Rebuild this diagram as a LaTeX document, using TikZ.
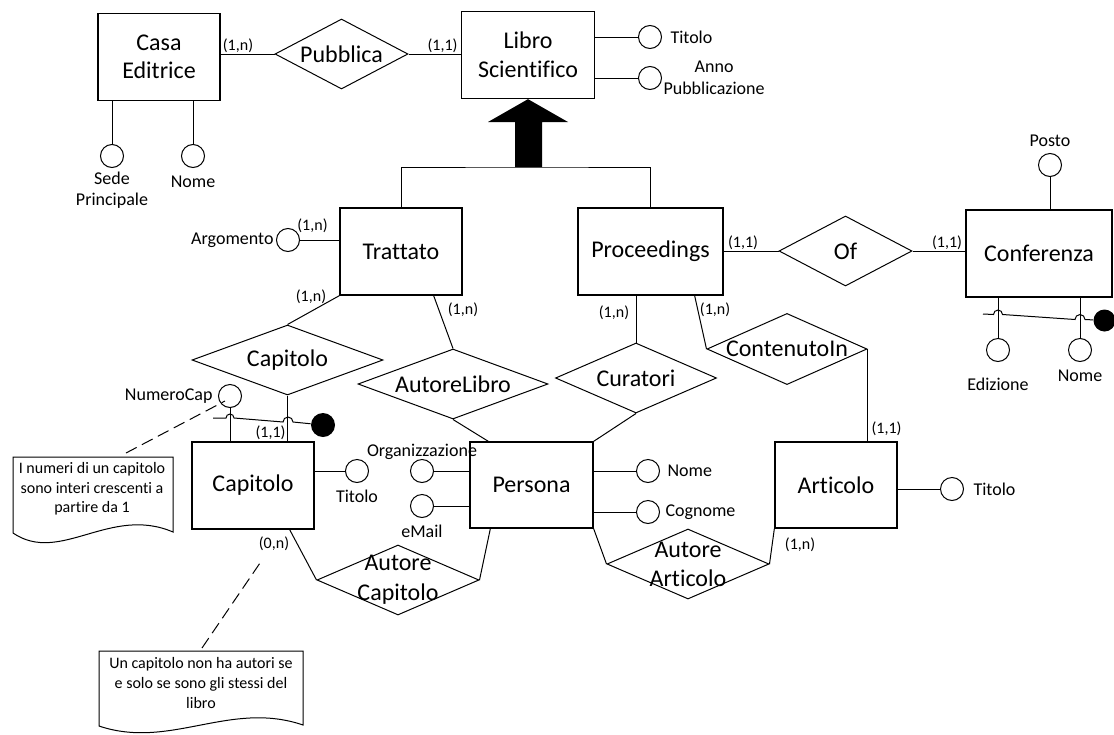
\documentclass[tikz,border=0pt]{standalone}
\usepackage{fontspec}
\setmainfont{Carlito}[Ligatures=NoCommon]
\usetikzlibrary{shapes.geometric}

\begin{document}
\begin{tikzpicture}[x=1pt, y=-1pt, line width=1pt,
  ent/.style={draw, line width=1.3pt, rectangle, align=center, inner sep=0pt, font=\fontsize{24}{28.5}\selectfont},
  rel/.style={draw, diamond, aspect=2.2, inner sep=0pt, font=\fontsize{24}{30}\selectfont},
  attr/.style={draw, circle, minimum size=23pt, inner sep=0pt},
  card/.style={inner sep=0pt, font=\fontsize{16}{18}\selectfont},
  idpt/.style={circle, fill=black, inner sep=0pt, minimum size=#1},
  notetext/.style={inner sep=0pt, align=center, font=\fontsize{16}{19.7}\selectfont},
  notelink/.style={dash pattern=on 12pt off 6pt},
  every label/.style={inner sep=1pt, align=center, font=\fontsize{18}{21.5}\selectfont}]

  \useasboundingbox (0,0) rectangle (1114,734);

  \node[ent, minimum width=122pt, minimum height=87pt] (casa) at (159,57) {Casa\\Editrice};
  \node[ent, minimum width=133pt, minimum height=87pt] (libro) at (528,55) {Libro\\Scientifico};
  \node[ent, minimum width=122pt, minimum height=87pt] (trat) at (401,251.5) {Trattato};
  \node[ent, minimum width=145pt, minimum height=87pt] (proc) at (650.5,251.5) {Proceedings};
  \node[ent, minimum width=146pt, minimum height=87pt] (conf) at (1039,253.5) {Conferenza};
  \node[ent, minimum width=122pt, minimum height=87pt] (cap) at (253,485.5) {Capitolo};
  \node[ent, minimum width=123pt, minimum height=86pt] (pers) at (531.5,485) {Persona};
  \node[ent, minimum width=122pt, minimum height=86pt] (art) at (836,485) {Articolo};

  \node[rel, minimum width=133pt, minimum height=70pt] (pub) at (341.5,54) {Pubblica};
  \node[rel, minimum width=133pt, minimum height=70pt] (of) at (845.5,251) {Of};
  \node[rel, minimum width=191pt, minimum height=70pt] (capr) at (287.5,360) {Capitolo};
  \node[rel, minimum width=190pt, minimum height=70pt] (alib) at (453,384) {AutoreLibro};
  \node[rel, minimum width=161pt, minimum height=70pt] (cur) at (636,378) {Curatori};
  \node[rel, minimum width=160pt, minimum height=71pt] (cont) at (787,349) {ContenutoIn};
  \node[rel, minimum width=162pt, minimum height=70pt,
    label={[inner sep=0pt, font=\fontsize{24}{30}\selectfont]center:Autore\\Capitolo}] (acap) at (398,580) {};
  \node[rel, minimum width=162pt, minimum height=70pt,
    label={[inner sep=0pt, font=\fontsize{24}{29}\selectfont]center:Autore\\Articolo}] (aart) at (688,564) {};

  \node[attr, label={[label distance=2pt]below:Sede\\Principale}] (sede) at (112,156) {};
  \node[attr, label={[label distance=6pt]below:Nome}] (nome1) at (193,156) {};
  \node[attr, label={[label distance=7pt]right:Titolo}] (tit1) at (650,37) {};
  \node[attr, label={[label distance=0pt]right:Anno\\Pubblicazione}] (anno) at (650,78) {};
  \node[attr, label={[label distance=1pt]left:Argomento}] (argo) at (288,240) {};
  \node[attr, label={[label distance=5pt]above:Posto}] (posto) at (1050,165) {};
  \node[attr, label={[label distance=14pt]below:Edizione}] (ediz) at (998,350) {};
  \node[attr, label={[label distance=6pt]below:Nome}] (nome3) at (1080,350) {};
  \node[attr, label={[label distance=4pt]left:NumeroCap}] (numcap) at (230,396) {};
  \node[attr, label={[label distance=5pt]below:Titolo}] (tit2) at (357,471) {};
  \node[attr, label={[label distance=-2pt]above:Organizzazione}] (org) at (422,471) {};
  \node[attr, label={[label distance=5pt]below:eMail}] (mail) at (422,506) {};
  \node[attr, label={[label distance=6pt]right:Nome}] (nome2) at (648,471) {};
  \node[attr, label={[label distance=4pt]right:Cognome}] (cogn) at (648,512) {};
  \node[attr, label={[label distance=8pt]right:Titolo}] (tit3) at (952,489) {};

  \node[card] (c1) at (238,46) {(1,n)};
  \node[card] (c2) at (442.5,46) {(1,1)};
  \node[card] (c3) at (312.5,226) {(1,n)};
  \node[card] (c4) at (311,296.5) {(1,n)};
  \node[card] (c5) at (463,309.5) {(1,n)};
  \node[card] (c6) at (614,313) {(1,n)};
  \node[card] (c7) at (715,309.5) {(1,n)};
  \node[card] (c8) at (743,243) {(1,1)};
  \node[card] (c9) at (947,243) {(1,1)};
  \node[card] (c10) at (270.5,433) {(1,1)};
  \node[card] (c11) at (274,544) {(0,n)};
  \node[card] (c12) at (886.5,428.5) {(1,1)};
  \node[card] (c13) at (800,545) {(1,n)};

  \draw (casa.east |- pub.west) -- (pub.west);
  \draw (pub.east) -- (libro.west |- pub.east);
  \draw (libro.east |- tit1) -- (tit1);
  \draw (libro.east |- anno) -- (anno);
  \draw (sede) -- (sede |- casa.south);
  \draw (nome1) -- (nome1 |- casa.south);

  \coordinate (isa) at (528,167);
  \draw (trat.north) |- (isa) -| (proc.north);
  \fill (515,167) -- (515,122) -- (488,122) -- (libro.south) -- (568,122) -- (542,122) -- (542,167) -- cycle;

  \draw (argo) -- (trat.west |- argo);
  \draw (trat.south west) -- (capr.north);
  \draw ([xshift=-29pt]trat.south east) -- (alib.north);
  \draw (cur.north) -- (cur.north |- proc.south);
  \draw ([xshift=-29pt]proc.south east) -- (cont.west);
  \draw (proc.east |- of.west) -- (of.west);
  \draw (of.east) -- (conf.west |- of.east);
  \draw (posto) -- (posto |- conf.north);
  \draw (ediz) -- (ediz |- conf.south);
  \draw (nome3) -- (nome3 |- conf.south);
  \draw (cont.east) -- (cont.east |- art.north);
  \draw (tit3) -- (art.east |- tit3);

  \draw (capr.south) -- (capr.south |- cap.north);
  \draw (numcap) -- (numcap |- cap.north);
  \draw (tit2) -- (cap.east |- tit2);
  \draw (alib.south) -- ([xshift=19pt]pers.north west);
  \draw (cur.south) -- (pers.north east);
  \draw (org) -- (pers.west |- org);
  \draw (mail) -- (pers.west |- mail);
  \draw (nome2) -- (pers.east |- nome2);
  \draw (cogn) -- (pers.east |- cogn);
  \draw ([xshift=-25pt]cap.south east) -- (acap.west);
  \draw (acap.east) -- ([xshift=21pt]pers.south west);
  \draw (pers.south east) -- (aart.west);
  \draw (aart.east) -- (art.south west);

  \node[idpt=24pt] (capid) at (323,425) {};
  \draw (213,418) -- (226,418) arc (180:360:4) -- (283,422) arc (180:360:5) -- (capid);
  \node[idpt=22pt] (confid) at (1104.5,320.5) {};
  \draw (983,314) -- (993.5,314.5) arc (180:360:4.5) -- (1075,319.5) arc (180:360:5) -- (confid);

  \node[notetext] (note1) at (92,489) {I numeri di un capitolo\\sono interi crescenti a\\partire da 1};
  \draw (13,533) |- (173,457) -- (173,532) .. controls (110,505) and (60,565) .. (13,533) -- cycle;
  \coordinate (n1tip) at (126,453);
  \draw[notelink] (n1tip) -- ([xshift=-5pt,yshift=-5pt]numcap.center);

  \node[notetext] (note2) at (201,683) {Un capitolo non ha autori se\\e solo se sono gli stessi del\\libro};
  \draw (99,726) |- (303,651) -- (303,725) .. controls (230,700) and (170,750) .. (99,726) -- cycle;
  \coordinate (n2tip) at (202,648);
  \coordinate (n2end) at (260,563);
  \draw[notelink] (n2tip) -- (n2end);
\end{tikzpicture}
\end{document}
